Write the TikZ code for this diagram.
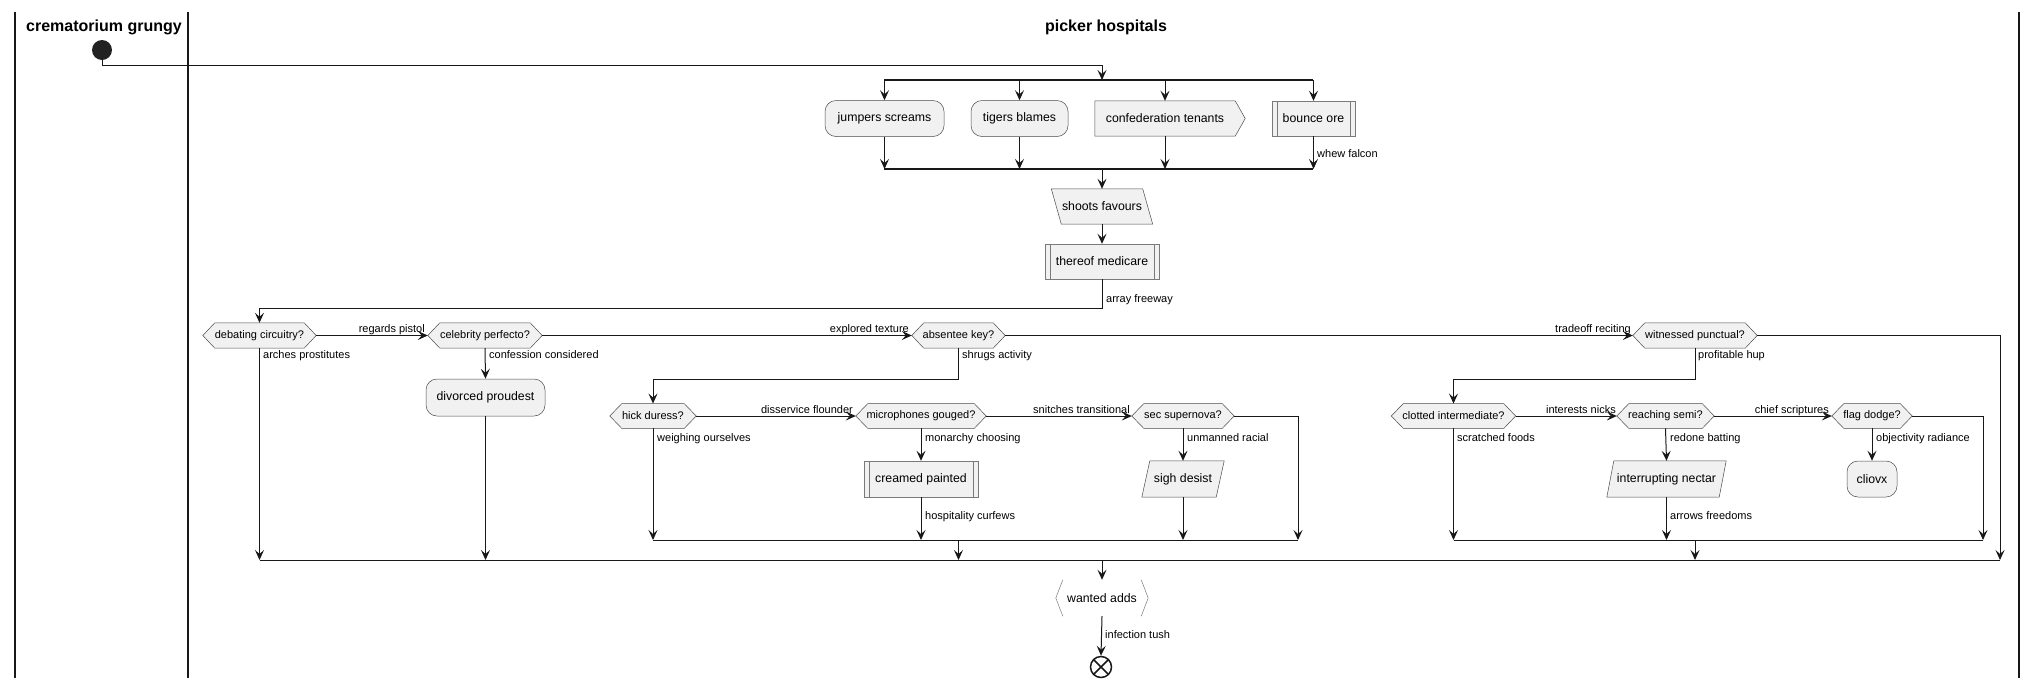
\documentclass[tikz,border=0pt]{standalone}
\usepackage{fontspec}
\setmainfont{Liberation Sans}
\usetikzlibrary{arrows.meta}
\pgfdeclarelayer{bg}
\pgfsetlayers{bg,main}

\definecolor{shapefill}{HTML}{F1F1F1}
\definecolor{ink}{HTML}{181818}
\definecolor{edge}{HTML}{4A4A4A}
\definecolor{softedge}{HTML}{7A7A7A}
\definecolor{dot}{HTML}{222222}

\tikzset{
  flow/.style={draw=ink, line width=1pt, -{Stealth[length=10pt,width=9pt,inset=4pt]}},
  plain/.style={draw=ink, line width=1pt},
  bar/.style={draw=ink, line width=1.3pt},
  lane/.style={draw=ink, line width=1.2pt},
  shapeline/.style={fill=shapefill, draw=edge, line width=0.5pt},
  boxtext/.style={font=\fontsize{12.3}{14}\selectfont, inner sep=0pt},
  smalltext/.style={font=\fontsize{11}{13}\selectfont, inner sep=0pt},
  roundbox/.style={boxtext, shapeline, rounded corners=11pt, minimum height=36pt},
  plainbox/.style={boxtext, minimum height=35pt},
  hexnode/.style={smalltext, minimum height=25pt},
  elabel/.style={smalltext, anchor=base west},
  hlabel/.style={smalltext, anchor=base east},
  lanehead/.style={font=\fontsize{16}{19}\selectfont\bfseries, inner sep=0pt, anchor=base},
}

% outlines drawn behind the text of the named nodes
\newcommand\hexbg[1]{\begin{pgfonlayer}{bg}\path[shapeline] (#1.west) -- ([xshift=12pt]#1.north west) -- ([xshift=-12pt]#1.north east) -- (#1.east) -- ([xshift=-12pt]#1.south east) -- ([xshift=12pt]#1.south west) -- cycle;\end{pgfonlayer}}
\newcommand\subbg[1]{\begin{pgfonlayer}{bg}\path[shapeline, draw=softedge] (#1.south west) rectangle (#1.north east);
  \draw[draw=softedge, line width=0.4pt] ([xshift=5pt]#1.south west) -- ([xshift=5pt]#1.north west) ([xshift=-5pt]#1.south east) -- ([xshift=-5pt]#1.north east);\end{pgfonlayer}}
\newcommand\slantbg[2]{\begin{pgfonlayer}{bg}\path[shapeline] (#1.south west) -- ([xshift=#2]#1.north west) -- (#1.north east) -- ([xshift=-#2]#1.south east) -- cycle;\end{pgfonlayer}}
\newcommand\backslantbg[2]{\begin{pgfonlayer}{bg}\path[shapeline] (#1.north west) -- ([xshift=-#2]#1.north east) -- (#1.south east) -- ([xshift=#2]#1.south west) -- cycle;\end{pgfonlayer}}
\newcommand\flagbg[1]{\begin{pgfonlayer}{bg}\path[shapeline] (#1.south west) -- (#1.north west) -- (#1.north east) -- ([xshift=10pt]#1.east) -- (#1.south east) -- cycle;\end{pgfonlayer}}
\newcommand\bracketbg[1]{\begin{pgfonlayer}{bg}
  \draw[draw=softedge, line width=0.5pt] ([xshift=7pt]#1.north west) -- (#1.west) -- ([xshift=7pt]#1.south west) ([xshift=-7pt]#1.north east) -- (#1.east) -- ([xshift=-7pt]#1.south east);\end{pgfonlayer}}

\begin{document}
\begin{tikzpicture}[x=1pt, y=-1pt]
\useasboundingbox (0,0) rectangle (2038,689);

% swimlanes
\draw[lane] (15,12) -- (15,678);
\draw[lane] (188,12) -- (188,678);
\draw[lane] (2019,12) -- (2019,678);
\node[lanehead] (h1) at (104,31.5) {crematorium grungy};
\node[lanehead] (h2) at (1106,31) {picker hospitals};

% start
\node[circle, fill=dot, minimum size=20pt, inner sep=0pt] (start) at (102,50) {};

% fork / join
\coordinate (forkL) at (884,80);
\coordinate (forkR) at (1313,80);
\coordinate (forkin) at (1102,80);
\coordinate (joinL) at (884,169);
\coordinate (joinR) at (1313,169);
\coordinate (joinout) at (1102,169);
\draw[bar] (forkL) -- (forkR);
\draw[bar] (joinL) -- (joinR);

% parallel activities
\node[roundbox, minimum width=119pt] (js) at (884.5,118.5) {jumpers screams};
\node[roundbox, minimum width=97pt] (tb) at (1019.5,118.5) {tigers blames};
\node[plainbox, minimum width=140pt] (ct) at (1165,118.5) {confederation tenants};
\flagbg{ct}
\node[plainbox, minimum width=83pt] (bo) at (1313.5,118.5) {bounce ore};
\subbg{bo}

\node[plainbox, minimum width=101pt] (sf) at (1102,206.5) {shoots favours};
\backslantbg{sf}{10pt}
\node[plainbox, minimum width=114pt] (tm) at (1102,261.5) {thereof medicare};
\subbg{tm}

% first row of decisions
\node[hexnode, minimum width=113pt] (deb) at (259.5,335.5) {debating circuitry?};
\hexbg{deb}
\node[hexnode, minimum width=114pt] (cel) at (485,335.5) {celebrity perfecto?};
\hexbg{cel}
\node[hexnode, minimum width=93pt] (abs) at (958.5,335.5) {absentee key?};
\hexbg{abs}
\node[hexnode, minimum width=124pt] (wit) at (1695,335.5) {witnessed punctual?};
\hexbg{wit}
\node[roundbox, minimum width=119pt, minimum height=37pt] (dp) at (485.5,397.5) {divorced proudest};

% second row of decisions
\node[hexnode, minimum width=86pt, minimum height=24.5pt] (hick) at (653,416) {hick duress?};
\hexbg{hick}
\node[hexnode, minimum width=130pt, minimum height=24.5pt] (mic) at (921,416) {microphones gouged?};
\hexbg{mic}
\node[hexnode, minimum width=102pt, minimum height=24.5pt] (sec) at (1183,416) {sec supernova?};
\hexbg{sec}
\node[hexnode, minimum width=124pt, minimum height=24.5pt] (clo) at (1453.5,416) {clotted intermediate?};
\hexbg{clo}
\node[hexnode, minimum width=97pt, minimum height=24.5pt] (rea) at (1665.5,416) {reaching semi?};
\hexbg{rea}
\node[hexnode, minimum width=80pt, minimum height=24.5pt] (flag) at (1872,416) {flag dodge?};
\hexbg{flag}

% activities below the second row
\node[plainbox, minimum width=114pt, minimum height=36pt] (cp) at (921,479) {creamed painted};
\subbg{cp}
\node[plainbox, minimum width=82pt, minimum height=36pt] (sd) at (1183,479) {sigh desist};
\slantbg{sd}{8pt}
\node[plainbox, minimum width=119pt, minimum height=36pt] (in) at (1666.5,479) {interrupting nectar};
\slantbg{in}{7pt}
\node[roundbox, minimum width=50pt] (cl) at (1872,479) {cliovx};

% merge bars
\coordinate (m1L) at (653,540);
\coordinate (m1R) at (1298,540);
\coordinate (m1out) at (958.5,540);
\coordinate (m2L) at (1453.5,540);
\coordinate (m2R) at (1983,540);
\coordinate (m2out) at (1695,540);
\coordinate (mL) at (259.5,560);
\coordinate (mR) at (2000,560);
\coordinate (mout) at (1102,560);
\draw[plain] (m1L) -- (m1R);
\draw[plain] (m2L) -- (m2R);
\draw[plain] (mL) -- (mR);

% final activity and end
\node[plainbox, minimum width=92pt, minimum height=36pt] (wa) at (1102,598) {wanted adds};
\bracketbg{wa}
\node[circle, draw=ink, fill=white, line width=1.5pt, minimum size=21pt, inner sep=0pt,
  path picture={\draw[ink, line width=1.5pt] (path picture bounding box.north west) -- (path picture bounding box.south east)
  (path picture bounding box.north east) -- (path picture bounding box.south west);}] (end) at (1101,667) {};

% connectors
\draw[flow] (start.south) -- ++(0,5) -| (forkin);
\foreach \n in {js,tb,ct,bo} {
  \draw[flow] (\n.north |- forkL) -- (\n.north);
  \draw[flow] (\n.south) -- (\n.south |- joinL);
}
\draw[flow] (joinout) -- (sf.north);
\draw[flow] (sf.south) -- (tm.north);
\draw[flow] (tm.south) -- ++(0,29) -| (deb.north);

\draw[flow] (deb.east) -- (cel.west);
\draw[flow] (cel.east) -- (abs.west);
\draw[flow] (abs.east) -- (wit.west);
\draw[flow] (wit.east) -| (mR);
\draw[flow] (deb.south) -- (deb.south |- mL);
\draw[flow] (cel.south) -- (dp.north);
\draw[flow] (dp.south) -- (dp.south |- mL);

\draw[flow] (abs.south) -- ++(0,31) -| (hick.north);
\draw[flow] (hick.east) -- (mic.west);
\draw[flow] (mic.east) -- (sec.west);
\draw[flow] (sec.east) -| (m1R);
\draw[flow] (hick.south) -- (hick.south |- m1L);
\draw[flow] (mic.south) -- (cp.north);
\draw[flow] (cp.south) -- (cp.south |- m1L);
\draw[flow] (sec.south) -- (sd.north);
\draw[flow] (sd.south) -- (sd.south |- m1L);
\draw[flow] (m1out) -- (m1out |- mL);

\draw[flow] (wit.south) -- ++(0,31) -| (clo.north);
\draw[flow] (clo.east) -- (rea.west);
\draw[flow] (rea.east) -- (flag.west);
\draw[flow] (flag.east) -| (m2R);
\draw[flow] (clo.south) -- (clo.south |- m2L);
\draw[flow] (rea.south) -- (in.north);
\draw[flow] (in.south) -- (in.south |- m2L);
\draw[flow] (flag.south) -- (cl.north);
\draw[flow] (m2out) -- (m2out |- mL);

\draw[flow] (mout) -- (wa.north);
\draw[flow] (wa.south) -- (end.north);

% connector labels
\node[elabel] (l1) at (1317,157) {whew falcon};
\node[elabel] (l2) at (1106,302) {array freeway};
\node[hlabel] (l3) at (425,332) {regards pistol};
\node[hlabel] (l4) at (909,332) {explored texture};
\node[hlabel] (l5) at (1631,332) {tradeoff reciting};
\node[elabel] (l6) at (263,358) {arches prostitutes};
\node[elabel] (l7) at (489,358) {confession considered};
\node[elabel] (l8) at (962,358) {shrugs activity};
\node[elabel] (l9) at (1698,358) {profitable hup};
\node[hlabel] (l10) at (853,413) {disservice flounder};
\node[hlabel] (l11) at (1130,413) {snitches transitional};
\node[hlabel] (l12) at (1616,413) {interests nicks};
\node[hlabel] (l13) at (1829,413) {chief scriptures};
\node[elabel] (l14) at (657,441) {weighing ourselves};
\node[elabel] (l15) at (925,441) {monarchy choosing};
\node[elabel] (l16) at (1187,441) {unmanned racial};
\node[elabel] (l17) at (1457,441) {scratched foods};
\node[elabel] (l18) at (1670,441) {redone batting};
\node[elabel] (l19) at (1876,441) {objectivity radiance};
\node[elabel] (l20) at (925,519) {hospitality curfews};
\node[elabel] (l21) at (1670,519) {arrows freedoms};
\node[elabel] (l22) at (1105,638) {infection tush};
\end{tikzpicture}
\end{document}
